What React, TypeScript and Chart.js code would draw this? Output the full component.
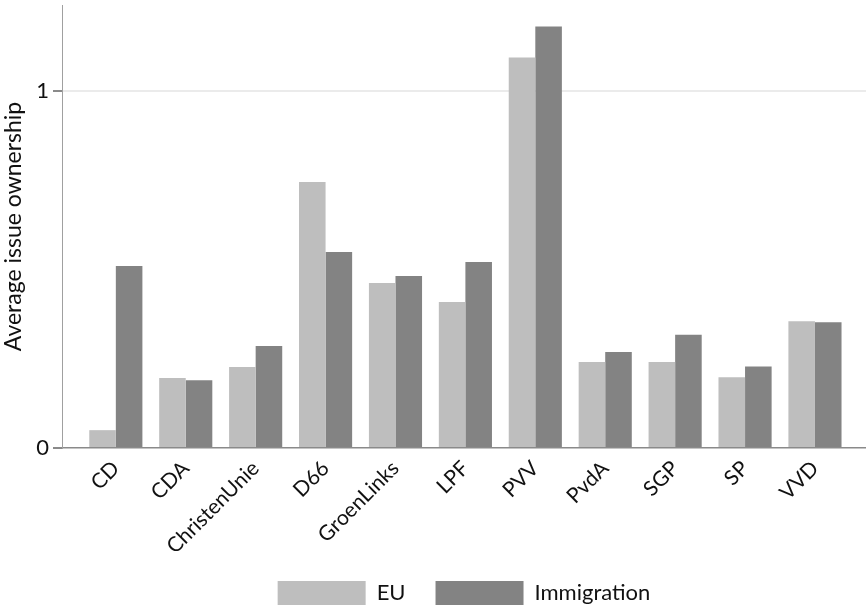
import React, { useEffect, useRef } from "react";
import { Chart, registerables } from "chart.js";

Chart.register(...registerables);

const categories = ["CD", "CDA", "ChristenUnie", "D66", "GroenLinks", "LPF", "PVV", "PvdA", "SGP", "SP", "VVD"];
const euValues = [0.05, 0.196, 0.227, 0.745, 0.462, 0.409, 1.094, 0.241, 0.241, 0.198, 0.355];
const immigrationValues = [0.51, 0.19, 0.286, 0.549, 0.482, 0.521, 1.181, 0.269, 0.317, 0.228, 0.352];
const yTickValues = [0, 1];
const seriesNames = ["EU", "Immigration"];
const yTitle = "Average issue ownership";

const FONT = "Lato, 'Noto Sans', sans-serif";
const FS = 22;

export default function App() {
  const ref = useRef<HTMLCanvasElement | null>(null);

  useEffect(() => {
    document.body.style.margin = "0";
    const canvas = ref.current;
    if (!canvas) return;
    const chart = new Chart(canvas, {
      type: "bar",
      data: {
        datasets: [
          {
            label: seriesNames[0],
            data: euValues.map((v, i) => ({ x: i, y: v })),
            backgroundColor: "#bebebe",
            categoryPercentage: 0.76,
            barPercentage: 1,
          },
          {
            label: seriesNames[1],
            data: immigrationValues.map((v, i) => ({ x: i, y: v })),
            backgroundColor: "#838383",
            categoryPercentage: 0.76,
            barPercentage: 1,
          },
        ],
      },
      options: {
        animation: false,
        responsive: false,
        maintainAspectRatio: false,
        layout: { padding: { top: 5, right: 0, left: 0, bottom: -5 } },
        plugins: {
          tooltip: { enabled: false },
          legend: {
            position: "bottom",
            fullSize: false,
            labels: {
              boxWidth: 88,
              boxHeight: 24,
              padding: 30,
              color: "#111",
              font: { family: FONT, size: FS },
            },
          },
        },
        scales: {
          x: {
            type: "linear",
            offset: false,
            min: -0.77,
            max: 10.73,
            grid: { display: false },
            border: { display: true, color: "#8a8a8a", width: 1.5 },
            afterFit: (scale: any) => {
              scale.height = 103;
              scale.paddingLeft = 0;
              scale.paddingRight = 0;
            },
            ticks: {
              stepSize: 1,
              includeBounds: false,
              autoSkip: false,
              minRotation: 45,
              maxRotation: 45,
              padding: 0,
              color: "#111",
              font: { family: FONT, size: 21 },
              callback: (v: any) => {
                const n = Number(v);
                return Number.isInteger(n) && categories[n] !== undefined ? categories[n] : "";
              },
            },
          },
          y: {
            min: 0,
            max: 1.241,
            afterFit: (scale: any) => {
              scale.width = 62;
              scale.paddingTop = 0;
              scale.paddingBottom = 0;
            },
            afterBuildTicks: (scale: any) => {
              scale.ticks = yTickValues.map((v) => ({ value: v }));
            },
            border: { display: true, color: "#a0a0a0", width: 1 },
            grid: {
              color: (ctx: any) => (ctx.tick && ctx.tick.value === 0 ? "rgba(0,0,0,0)" : "#ebebeb"),
              tickColor: "#8a8a8a",
              tickLength: 9,
              lineWidth: 2,
            },
            ticks: {
              padding: 4,
              color: "#111",
              font: { family: FONT, size: FS },
            },
            title: {
              display: true,
              text: yTitle,
              color: "#111",
              font: { family: FONT, size: FS + 1 },
              padding: { top: 0, bottom: 0 },
            },
          },
        },
      },
    });
    return () => chart.destroy();
  }, []);

  return (
    <div style={{ width: 866, height: 610, background: "#fff" }}>
      <canvas ref={ref} width={866} height={610} style={{ width: 866, height: 610, display: "block" }} />
    </div>
  );
}
